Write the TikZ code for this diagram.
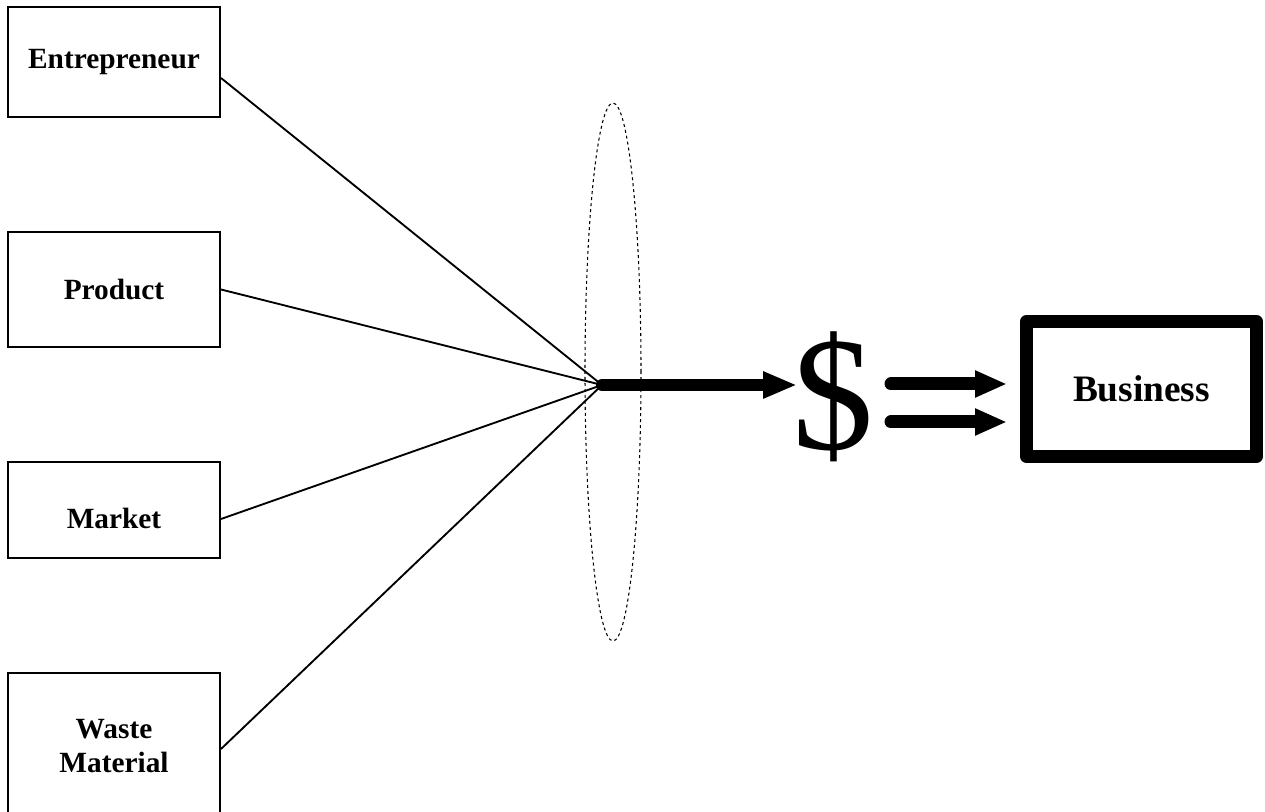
\documentclass[tikz,border=0pt]{standalone}
\usepackage{fontspec}
\setmainfont{Liberation Serif}
\usetikzlibrary{arrows.meta,shapes.geometric}
\begin{document}
\begin{tikzpicture}[x=0.75pt,y=-0.75pt,
  inbox/.style={draw, line width=1.5pt, rectangle, minimum width=159pt, inner sep=0pt,
    font=\fontsize{22}{25.5}\selectfont\bfseries},
  feed/.style={line width=1.4pt},
  bigarrow/.style={line width=9pt, line cap=round, -{Triangle[length=25.5pt,width=18.75pt]}},
  dblarrow/.style={line width=9.75pt, line cap=round, -{Triangle[length=24pt,width=18.75pt]}},
  ring/.style={ellipse, draw, dash pattern=on 2.25pt off 2.25pt, line width=0.8pt, inner sep=0pt},
  bizbox/.style={draw, line width=9.75pt, line join=round, inner sep=0pt,
    font=\fontsize{28}{32}\selectfont\bfseries}
]
\useasboundingbox (0,0) rectangle (1265,812);

\node[inbox, minimum height=82.5pt] (ent) at (114,62) {Entrepreneur};
\node[inbox, minimum height=86.25pt] (prod) at (114,289.5) {Product};
\node[inbox, minimum height=72pt, text height=28.5pt, text depth=0pt] (mkt) at (114,510) {Market};
\node[inbox, minimum height=109.5pt, align=center] (waste) at (114,746) {Waste\\Material};

\node[ring, minimum width=42pt, minimum height=403.5pt] (oval) at (613,372) {};

\coordinate (hub) at (602,385);
\coordinate (tip) at (797,385);

\draw[feed] ([yshift=-12pt]ent.east) -- (hub);
\draw[feed] (prod.east) -- (hub);
\draw[feed] ([yshift=-6.75pt]mkt.east) -- (hub);
\draw[feed] ([yshift=-2.25pt]waste.east) -- (hub);

\draw[bigarrow] (hub) -- (tip);

\node[inner sep=0pt, font=\fontsize{122}{122}\selectfont] (dollar) at (833,397) {\$};

\node[bizbox, minimum width=172.5pt, minimum height=101.25pt] (biz) at (1141.5,389) {Business};

\coordinate (d1) at (891,384);
\coordinate (d2) at (891,422);
\draw[dblarrow] (d1) -- ([xshift=-9.75pt,yshift=3.75pt]biz.west);
\draw[dblarrow] (d2) -- ([xshift=-9.75pt,yshift=-24.75pt]biz.west);
\end{tikzpicture}
\end{document}
